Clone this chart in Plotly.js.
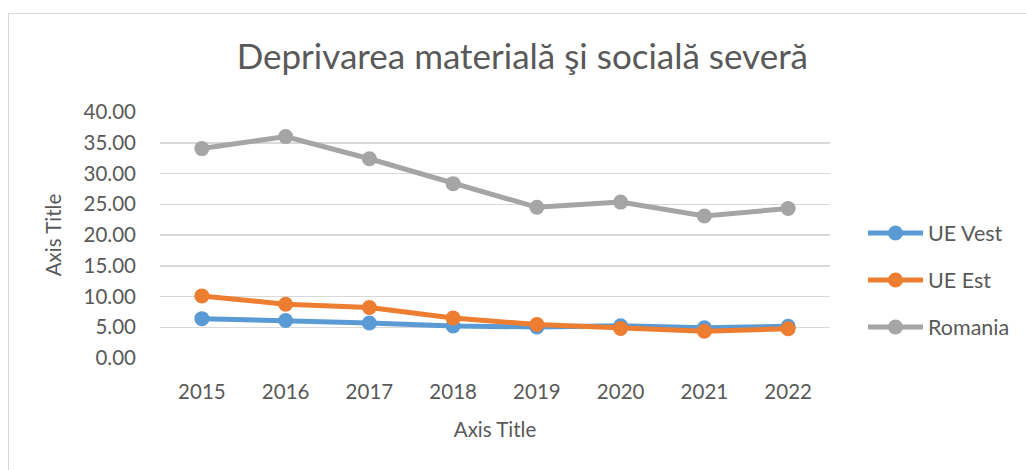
<!DOCTYPE html>
<html>
<head>
<meta charset="utf-8">
<script src="https://cdn.plot.ly/plotly-3.0.1.min.js"></script>
<style>
html,body{margin:0;padding:0;background:#fff;}
#wrap{position:relative;width:1026px;height:470px;overflow:hidden;}
#frame{position:absolute;left:8px;top:13px;width:1100px;height:600px;border:1px solid #D9D9D9;box-sizing:border-box;}
#chart{position:absolute;left:0;top:0;width:1026px;height:470px;}
</style>
</head>
<body>
<div id="wrap"><div id="frame"></div><div id="chart"></div></div>
<script>
const years = ['2015','2016','2017','2018','2019','2020','2021','2022'];
const ueVest = [6.4, 6.1, 5.7, 5.2, 5.05, 5.25, 4.9, 5.15];
const ueEst = [10.1, 8.75, 8.2, 6.5, 5.45, 4.8, 4.35, 4.75];
const romania = [34.05, 36.0, 32.4, 28.35, 24.5, 25.35, 23.1, 24.3];
const seriesNames = ['UE Vest', 'UE Est', 'Romania'];
const colors = ['#5B9BD5', '#ED7D31', '#A5A5A5'];
const title = 'Deprivarea materială şi socială severă';

const FONT = 'Lato, "Open Sans", sans-serif';
const TXT = '#595959';

const data = [ueVest, ueEst, romania].map((vals, i) => ({
  x: years, y: vals, name: seriesNames[i], type: 'scatter', mode: 'lines+markers',
  legendgroup: 'g' + i,
  line: {color: colors[i], width: 5},
  marker: {color: colors[i], size: 15}
}));

const layout = {
  width: 1026, height: 470,
  paper_bgcolor: 'rgba(0,0,0,0)', plot_bgcolor: 'rgba(0,0,0,0)',
  margin: {l: 160, r: 196, t: 112, b: 112, autoexpand: false},
  font: {family: FONT, color: TXT, size: 20.5},
  title: {text: title, font: {family: FONT, size: 35, color: TXT}, xref: 'container', x: 808/1026, xanchor: 'right', y: 0.88, yanchor: 'middle'},
  xaxis: {
    type: 'category', range: [-0.5, 7.5], showgrid: false, zeroline: false, showline: false, automargin: false,
    ticks: '', ticklabelstandoff: 19, tickfont: {size: 20.5, color: TXT},
    title: {text: 'Axis Title', font: {size: 20.5, color: TXT}, standoff: 21}
  },
  yaxis: {
    range: [0, 40], dtick: 5, tick0: 0, tickformat: '.2f', showgrid: true, gridcolor: '#D9D9D9', gridwidth: 1.5,
    zeroline: false, showline: false, automargin: false, ticks: '', ticklabelstandoff: 23, tickfont: {size: 20.5, color: TXT},
    title: {text: 'Axis Title', font: {size: 20.5, color: TXT}, standoff: 16}
  },
  showlegend: true,
  legend: {x: (863 - 160) / 670, xanchor: 'left', y: (358 - 280) / 246.3, yanchor: 'middle', itemwidth: 55,
    font: {size: 21.5, color: TXT}, tracegroupgap: 16, bgcolor: 'rgba(0,0,0,0)'}
};

Plotly.newPlot('chart', data, layout, {displayModeBar: false, staticPlot: true});
</script>
</body>
</html>
